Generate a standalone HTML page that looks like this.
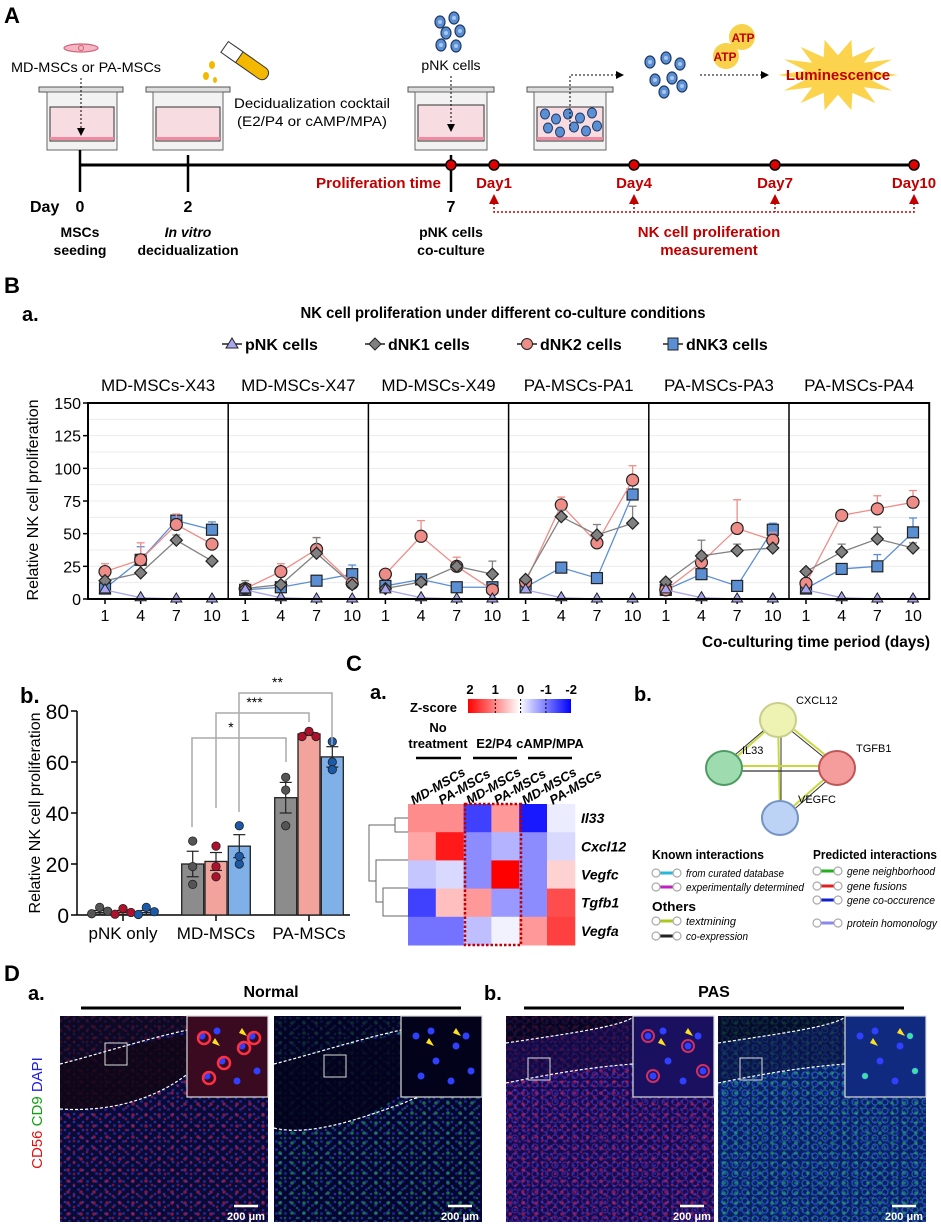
<!DOCTYPE html>
<html><head><meta charset="utf-8">
<style>
html,body{margin:0;padding:0;background:#fff;}
svg{display:block;font-family:"Liberation Sans",Arial,sans-serif;}
.n{font-family:"Liberation Sans Narrow","Liberation Sans",sans-serif;}
</style></head>
<body>
<svg id="fig" width="941" height="1224" viewBox="0 0 941 1224" xmlns="http://www.w3.org/2000/svg">
<defs>
  <marker id="arrBlack" markerWidth="8" markerHeight="8" refX="4" refY="4" orient="auto"><path d="M0,0 L8,4 L0,8 z" fill="#000"/></marker>
  <linearGradient id="zgrad" x1="0" x2="1" y1="0" y2="0">
    <stop offset="0" stop-color="#ff0000"/><stop offset="0.5" stop-color="#ffffff"/><stop offset="1" stop-color="#0000ff"/>
  </linearGradient>
  <pattern id="pBlue" width="9" height="8" patternUnits="userSpaceOnUse">
    <circle cx="2" cy="2" r="1.3" fill="#3a4cff"/><circle cx="6.5" cy="5.5" r="1.5" fill="#2a3ae0"/>
  </pattern>
  <pattern id="pRed" width="13" height="11" patternUnits="userSpaceOnUse">
    <circle cx="3" cy="4" r="1.8" fill="#e02050"/><circle cx="9" cy="8" r="1.4" fill="#c01848"/>
  </pattern>
  <pattern id="pGreen" width="12" height="10" patternUnits="userSpaceOnUse">
    <circle cx="4" cy="3" r="1.8" fill="#22c060"/><circle cx="9" cy="8" r="1.3" fill="#1aa050"/>
  </pattern>
  <pattern id="pCyan" width="10" height="9" patternUnits="userSpaceOnUse">
    <circle cx="5" cy="4" r="3" fill="none" stroke="#3090e0" stroke-width="1.2"/>
  </pattern>
  <pattern id="pPurple" width="10" height="9" patternUnits="userSpaceOnUse">
    <circle cx="5" cy="4" r="3" fill="none" stroke="#7030c0" stroke-width="1.2"/>
  </pattern>
</defs>

<!-- ================= PART A ================= -->
<g>
  <text x="4" y="23" font-size="22" font-weight="bold">A</text>
  <ellipse cx="81" cy="48" rx="17" ry="4" fill="#f3b6c2" stroke="#d0607a" stroke-width="1.2"/>
  <circle cx="81" cy="48" r="2.5" fill="none" stroke="#d0607a"/>
  <text class="n" x="86" y="72" font-size="14" text-anchor="middle" textLength="150" lengthAdjust="spacingAndGlyphs">MD-MSCs or PA-MSCs</text>
  <g>
    <rect x="39" y="87" width="84" height="5" fill="#ddd" stroke="#555"/>
    <rect x="47" y="92" width="70" height="58" fill="#f2f2f2" stroke="#666"/>
    <rect x="50" y="107" width="64" height="34" fill="#f7dde2" stroke="#333" stroke-width="1"/>
    <rect x="50" y="137" width="64" height="3" fill="#ef8aa0"/>
  </g>
  <line x1="81" y1="78" x2="81" y2="132" stroke="#000" stroke-dasharray="2,2" marker-end="url(#arrBlack)"/>
  <g>
    <rect x="146" y="87" width="84" height="5" fill="#ddd" stroke="#555"/>
    <rect x="153" y="92" width="70" height="58" fill="#f2f2f2" stroke="#666"/>
    <rect x="156" y="107" width="64" height="34" fill="#f7dde2" stroke="#333"/>
    <rect x="156" y="137" width="64" height="3" fill="#ef8aa0"/>
  </g>
  <g>
    <rect x="222" y="56" width="50" height="13" rx="6" fill="#f5b800" stroke="#333" transform="rotate(35 247 62)"/>
    <rect x="220" y="56" width="18" height="13" fill="#fff" stroke="#333" transform="rotate(35 247 62)"/>
    <ellipse cx="212" cy="65" rx="3" ry="4" fill="#f5b800"/>
    <ellipse cx="206" cy="76" rx="3" ry="4" fill="#f5b800"/>
    <ellipse cx="215" cy="80" rx="2" ry="3" fill="#f5b800"/>
  </g>
  <text class="n" x="234" y="108" font-size="14" textLength="156" lengthAdjust="spacingAndGlyphs">Decidualization cocktail</text>
  <text class="n" x="237" y="126" font-size="14" textLength="150" lengthAdjust="spacingAndGlyphs">(E2/P4 or cAMP/MPA)</text>
  <g id="pnkCluster"></g>
  <text class="n" x="451" y="70" font-size="14" text-anchor="middle">pNK cells</text>
  <g>
    <rect x="408" y="87" width="86" height="5" fill="#ddd" stroke="#555"/>
    <rect x="415" y="92" width="72" height="58" fill="#f2f2f2" stroke="#666"/>
    <rect x="418" y="105" width="66" height="36" fill="#f7dde2" stroke="#333"/>
    <rect x="418" y="137" width="66" height="3" fill="#ef8aa0"/>
  </g>
  <line x1="451" y1="76" x2="451" y2="128" stroke="#000" stroke-dasharray="2,2" marker-end="url(#arrBlack)"/>
  <g>
    <rect x="527" y="87" width="86" height="5" fill="#ddd" stroke="#555"/>
    <rect x="534" y="92" width="72" height="58" fill="#f2f2f2" stroke="#666"/>
    <rect x="537" y="107" width="66" height="34" fill="#f7dde2" stroke="#333"/>
    <rect x="537" y="137" width="66" height="3" fill="#ef8aa0"/>
    <g id="wellCells"></g>
  </g>
  <polyline points="570,130 570,75 620,75" fill="none" stroke="#000" stroke-dasharray="2,2" marker-end="url(#arrBlack)"/>
  <g id="cells2"></g>
  <line x1="700" y1="75" x2="765" y2="75" stroke="#000" stroke-dasharray="2,2" marker-end="url(#arrBlack)"/>
  <circle cx="742" cy="37" r="13" fill="#f8d24a"/>
  <circle cx="726" cy="56" r="13" fill="#f8d24a"/>
  <text class="n" x="743" y="42" font-size="12" font-weight="bold" fill="#c00000" text-anchor="middle">ATP</text>
  <text class="n" x="725" y="61" font-size="12" font-weight="bold" fill="#c00000" text-anchor="middle">ATP</text>
  <polygon id="burst" fill="#fcd34d"/>
  <text class="n" x="838" y="80" font-size="15" font-weight="bold" fill="#c00000" text-anchor="middle">Luminescence</text>

  <line x1="80" y1="165" x2="914" y2="165" stroke="#000" stroke-width="3"/>
  <line x1="80" y1="150" x2="80" y2="192" stroke="#000" stroke-width="2.5"/>
  <line x1="188" y1="155" x2="188" y2="192" stroke="#000" stroke-width="2.5"/>
  <line x1="451" y1="155" x2="451" y2="192" stroke="#000" stroke-width="2.5"/>
  <g id="tdots"></g>
  <text class="n" x="441" y="188" font-size="15" font-weight="bold" fill="#c00000" text-anchor="end" textLength="125" lengthAdjust="spacingAndGlyphs">Proliferation time</text>
  <text class="n" x="30" y="212" font-size="16" font-weight="bold">Day</text>
  <text class="n" x="80" y="212" font-size="16" font-weight="bold" text-anchor="middle">0</text>
  <text class="n" x="188" y="212" font-size="16" font-weight="bold" text-anchor="middle">2</text>
  <text class="n" x="451" y="212" font-size="16" font-weight="bold" text-anchor="middle">7</text>
  <polyline points="494,203 494,212 914,212 914,203" fill="none" stroke="#c00000" stroke-width="1.5" stroke-dasharray="2,2"/>
  <line x1="634" y1="203" x2="634" y2="212" stroke="#c00000" stroke-dasharray="2,2" stroke-width="1.5"/>
  <line x1="775" y1="203" x2="775" y2="212" stroke="#c00000" stroke-dasharray="2,2" stroke-width="1.5"/>
  <text class="n" font-size="14" font-weight="bold" text-anchor="middle"><tspan x="80" y="237">MSCs</tspan><tspan x="80" y="255">seeding</tspan></text>
  <text class="n" font-size="14" font-weight="bold" text-anchor="middle"><tspan x="188" y="237" font-style="italic">In vitro</tspan><tspan x="188" y="255">decidualization</tspan></text>
  <text class="n" font-size="14" font-weight="bold" text-anchor="middle"><tspan x="451" y="237">pNK cells</tspan><tspan x="451" y="255">co-culture</tspan></text>
  <text class="n" font-size="15" font-weight="bold" fill="#c00000" text-anchor="middle"><tspan x="709" y="237">NK cell proliferation</tspan><tspan x="709" y="255">measurement</tspan></text>
</g>

<!-- ================= PART B a ================= -->
<g>
  <text x="4" y="293" font-size="22" font-weight="bold">B</text>
  <text x="22" y="321" font-size="20" font-weight="bold">a.</text>
  <text class="n" x="503" y="318" font-size="16" font-weight="bold" text-anchor="middle" textLength="405" lengthAdjust="spacingAndGlyphs">NK cell proliferation under different co-culture conditions</text>
  <g id="legendB"></g>
  <g id="lineCharts"></g>
  <text x="38" y="500" font-size="16" text-anchor="middle" transform="rotate(-90 38 500)">Relative NK cell proliferation</text>
  <text class="n" x="930" y="647" font-size="16" font-weight="bold" text-anchor="end" textLength="228" lengthAdjust="spacingAndGlyphs">Co-culturing time period (days)</text>
</g>

<!-- ================= PART B b ================= -->
<g>
  <text x="20" y="703" font-size="22" font-weight="bold">b.</text>
  <g id="barChart"></g>
  <text x="40" y="813" font-size="16" text-anchor="middle" transform="rotate(-90 40 813)">Relative NK cell proliferation</text>
</g>

<!-- ================= PART C ================= -->
<g>
  <text x="346" y="671" font-size="22" font-weight="bold">C</text>
  <text x="370" y="699" font-size="20" font-weight="bold">a.</text>
  <text class="n" x="410" y="712" font-size="13" font-weight="bold">Z-score</text>
  <rect x="468" y="699" width="103" height="14" fill="url(#zgrad)"/>
  <g id="zticks"></g>
  <text class="n" font-size="13" font-weight="bold" text-anchor="middle"><tspan x="438" y="732">No</tspan><tspan x="438" y="748">treatment</tspan></text>
  <text class="n" x="494" y="748" font-size="13" font-weight="bold" text-anchor="middle">E2/P4</text>
  <text class="n" x="550" y="748" font-size="13" font-weight="bold" text-anchor="middle">cAMP/MPA</text>
  <line x1="416" y1="758" x2="461" y2="758" stroke="#000" stroke-width="2.5"/>
  <line x1="473" y1="758" x2="517" y2="758" stroke="#000" stroke-width="2.5"/>
  <line x1="528" y1="758" x2="572" y2="758" stroke="#000" stroke-width="2.5"/>
  <g id="heatmap"></g>
  <g fill="none" stroke="#666" stroke-width="1">
    <polyline points="408,818 395,818 395,832 408,832"/>
    <polyline points="408,888 383,888 383,916 408,916"/>
    <polyline points="408,860 376,860 376,902 383,902"/>
    <polyline points="395,825 369,825 369,881 376,881"/>
  </g>
  <rect x="465" y="804" width="56" height="141" fill="none" stroke="#c00000" stroke-width="2.5" stroke-dasharray="2.5,2"/>

  <text x="634" y="701" font-size="20" font-weight="bold">b.</text>
  <g>
    <line x1="778" y1="720" x2="724" y2="768" stroke="#c8d840" stroke-width="2"/>
    <line x1="776" y1="720" x2="722" y2="766" stroke="#333" stroke-width="1"/>
    <line x1="778" y1="720" x2="837" y2="768" stroke="#333" stroke-width="1"/>
    <line x1="781" y1="719" x2="840" y2="767" stroke="#c8d840" stroke-width="2"/>
    <line x1="778" y1="720" x2="780" y2="818" stroke="#c8d840" stroke-width="2"/>
    <line x1="781" y1="720" x2="781" y2="818" stroke="#333" stroke-width="1"/>
    <line x1="724" y1="766" x2="837" y2="766" stroke="#c8d840" stroke-width="2"/>
    <line x1="724" y1="771" x2="837" y2="771" stroke="#333" stroke-width="1.2"/>
    <line x1="837" y1="768" x2="780" y2="818" stroke="#c8d840" stroke-width="2"/>
    <line x1="839" y1="770" x2="782" y2="820" stroke="#333" stroke-width="1"/>
    <ellipse cx="778" cy="720" rx="18" ry="17" fill="#eef3b4" stroke="#c8cf88" stroke-width="2"/>
    <ellipse cx="724" cy="768" rx="18" ry="17" fill="#9edcb0" stroke="#4c9c62" stroke-width="2"/>
    <ellipse cx="837" cy="768" rx="18" ry="17" fill="#f59c9c" stroke="#c05656" stroke-width="2"/>
    <ellipse cx="780" cy="818" rx="18" ry="17" fill="#bcd3f5" stroke="#7494c4" stroke-width="2"/>
    <text x="796" y="704" font-size="11">CXCL12</text>
    <text x="742" y="754" font-size="11">IL33</text>
    <text x="856" y="752" font-size="11">TGFB1</text>
    <text x="798" y="803" font-size="11">VEGFC</text>
  </g>
  <g id="netLegend"></g>
</g>

<!-- ================= PART D ================= -->
<g>
  <text x="4" y="981" font-size="22" font-weight="bold">D</text>
  <text x="28" y="1000" font-size="20" font-weight="bold">a.</text>
  <text class="n" x="271" y="997" font-size="16" font-weight="bold" text-anchor="middle">Normal</text>
  <line x1="81" y1="1008" x2="461" y2="1008" stroke="#000" stroke-width="3"/>
  <text x="484" y="1000" font-size="20" font-weight="bold">b.</text>
  <text class="n" x="714" y="997" font-size="16" font-weight="bold" text-anchor="middle">PAS</text>
  <line x1="524" y1="1008" x2="904" y2="1008" stroke="#000" stroke-width="3"/>
  <text font-size="15" transform="rotate(-90 42 1113)" x="42" y="1113" text-anchor="middle"><tspan fill="#e01010">CD56 </tspan><tspan fill="#10a010">CD9 </tspan><tspan fill="#2020e0">DAPI</tspan></text>
  <g id="micro"></g>
</g>

<script>
const NS="http://www.w3.org/2000/svg";
function mk(tag,attrs,parent){const e=document.createElementNS(NS,tag);for(const k in attrs)e.setAttribute(k,attrs[k]);if(parent)parent.appendChild(e);return e;}

(function(){
  const cl=document.getElementById('pnkCluster');
  [[440,22],[454,18],[446,33],[460,31],[441,45],[456,46]].forEach(p=>{
    const c=mk('ellipse',{cx:p[0],cy:p[1],rx:5,ry:6,fill:'#5b8fd4',stroke:'#1f3a66','stroke-width':1.2},cl);
    
    
    mk('circle',{cx:p[0],cy:p[1],r:2,fill:'#a8c6ee'},cl);
  });
  const c2=document.getElementById('cells2');
  [[650,62],[666,58],[680,64],[655,80],[672,78],[664,92],[682,86]].forEach(p=>{
    mk('ellipse',{cx:p[0],cy:p[1],rx:5,ry:6,fill:'#5b8fd4',stroke:'#1f3a66','stroke-width':1.2},c2);
    mk('circle',{cx:p[0],cy:p[1],r:2,fill:'#a8c6ee'},c2);
  });
  const wc=document.getElementById('wellCells');
  [[545,114],[556,119],[568,114],[580,118],[592,113],[548,128],[560,132],[574,127],[586,131],[597,126]].forEach(p=>{
    mk('ellipse',{cx:p[0],cy:p[1],rx:4.5,ry:5,fill:'#5b8fd4',stroke:'#1f3a66','stroke-width':1},wc);
  });
  const b=document.getElementById('burst');let pts=[];
  for(let i=0;i<28;i++){const a=i*Math.PI/14;const r=(i%2===0)?1:0.55;pts.push((838+Math.cos(a)*60*r).toFixed(1)+','+(75+Math.sin(a)*36*r).toFixed(1));}
  b.setAttribute('points',pts.join(' '));
  const td=document.getElementById('tdots');
  [451,494,634,775,914].forEach((x,i)=>{
    const d=mk('circle',{cx:x,cy:165,r:5,fill:'#e00000',stroke:'#000','stroke-width':1.5},td);
    
    
  });
  [['Day1',494],['Day4',634],['Day7',775],['Day10',914]].forEach(t=>{
    const tx=mk('text',{x:t[1],y:188,'font-size':15,'font-weight':'bold',fill:'#c00000','text-anchor':'middle','class':'n'},td);
    tx.textContent=t[0];
    
    
    mk('polygon',{points:`${t[1]-5},204 ${t[1]+5},204 ${t[1]},194`,fill:'#c00000'},td);
  });
})();

/* ---------- Part B a: line charts ---------- */
const days=[1,4,7,10];
const panelNames=['MD-MSCs-X43','MD-MSCs-X47','MD-MSCs-X49','PA-MSCs-PA1','PA-MSCs-PA3','PA-MSCs-PA4'];
const pnkVals=[[7,1,0,0],[7,1,0,0],[7,1,0,0],[7,1,0,0],[7,1,0,0],[7,1,0,0]];
const dnk1Vals=[[14,20,45,29],[8,11,35,11],[8,13,25,19],[15,63,49,58],[13,33,37,39],[21,36,46,39]];
const dnk2Vals=[[21,30,57,42],[8,21,38,12],[19,48,25,7],[13,72,43,91],[7,28,54,45],[12,64,69,74]];
const dnk3Vals=[[8,30,60,53],[7,9,14,19],[10,15,9,9],[9,24,16,80],[7,19,10,53],[8,23,25,51]];
const dnk1Err=[[2,2,4,2],[6,2,12,2],[2,2,2,10],[2,5,8,13],[2,12,5,3],[2,6,9,4]];
const dnk2Err=[[6,13,8,3],[2,6,9,3],[2,12,7,2],[2,6,3,11],[2,8,22,6],[2,2,10,9]];
const dnk3Err=[[2,10,3,6],[2,2,4,7],[2,2,2,2],[2,4,2,9],[2,4,2,5],[2,2,9,11]];
const yTicksB=[0,25,50,75,100,125,150];

const PX0=88,PW=140.2,Y0=599,YH=196;
function xS(p,d){return PX0+p*PW+17+(d-1)/9*107;}
function yS(v){return Y0-v*YH/150;}

(function(){
  const g=document.getElementById('lineCharts');
  for(let v=12.5;v<150;v+=12.5){
    mk('line',{x1:PX0,x2:PX0+6*PW,y1:yS(v),y2:yS(v),stroke:'#ececec','stroke-width':1},g);
  }
  yTicksB.forEach(v=>{
    mk('line',{x1:PX0-5,x2:PX0,y1:yS(v),y2:yS(v),stroke:'#000','stroke-width':1.5},g);
    const t=mk('text',{x:PX0-7,y:yS(v)+6,'font-size':16,'text-anchor':'end'},g);t.textContent=v;
    
    
  });
  const series=[
    {vals:dnk3Vals,err:dnk3Err,col:'#5b8fd4',shape:'sq',name:'dnk3'},
    {vals:dnk2Vals,err:dnk2Err,col:'#ee8d88',shape:'ci',name:'dnk2'},
    {vals:dnk1Vals,err:dnk1Err,col:'#808080',shape:'di',name:'dnk1'},
    {vals:pnkVals,err:null,col:'#a9a6f0',shape:'tr',name:'pnk'}
  ];
  panelNames.forEach((nm,p)=>{
    const pg=mk('g',{},g);
    
    
    const t=mk('text',{x:PX0+p*PW+PW/2,y:391,'font-size':17,'text-anchor':'middle'},pg);t.textContent=nm;
    
    
    days.forEach(d=>{
      mk('line',{x1:xS(p,d),x2:xS(p,d),y1:Y0,y2:Y0+5,stroke:'#000','stroke-width':1.5},pg);
      const tl=mk('text',{x:xS(p,d),y:Y0+22,'font-size':16,'text-anchor':'middle'},pg);tl.textContent=d;
      
      
    });
    series.forEach(s=>{
      const v=s.vals[p];
      if(s.err){
        v.forEach((val,i)=>{
          const x=xS(p,days[i]),y1=yS(val),y2=yS(val+s.err[p][i]);
          mk('line',{x1:x,x2:x,y1:y1,y2:y2,stroke:s.col,'stroke-width':1.3},pg);
          mk('line',{x1:x-4,x2:x+4,y1:y2,y2:y2,stroke:s.col,'stroke-width':1.3},pg);
        });
      }
      const pl=mk('polyline',{points:v.map((val,i)=>xS(p,days[i])+','+yS(val)).join(' '),fill:'none',stroke:s.col,'stroke-width':1.3},pg);
      
      
      v.forEach((val,i)=>{
        const x=xS(p,days[i]),y=yS(val);let m;
        if(s.shape==='sq')m=mk('rect',{x:x-5.5,y:y-5.5,width:11,height:11,fill:s.col,stroke:'#222','stroke-width':1.2},pg);
        else if(s.shape==='ci')m=mk('circle',{cx:x,cy:y,r:6,fill:s.col,stroke:'#222','stroke-width':1.2},pg);
        else if(s.shape==='di')m=mk('polygon',{points:`${x},${y-6} ${x+6},${y} ${x},${y+6} ${x-6},${y}`,fill:s.col,stroke:'#222','stroke-width':1.2},pg);
        else m=mk('polygon',{points:`${x},${y-6} ${x+5.5},${y+3} ${x-5.5},${y+3}`,fill:s.col,stroke:'#222','stroke-width':1},pg);
        
        
      });
    });
  });
  mk('rect',{x:PX0,y:yS(150),width:6*PW,height:YH,fill:'none',stroke:'#000','stroke-width':2},g);
  for(let p=1;p<6;p++) mk('line',{x1:PX0+p*PW,x2:PX0+p*PW,y1:yS(150),y2:Y0,stroke:'#000','stroke-width':1.5},g);

  const lg=document.getElementById('legendB');
  const items=[['pNK cells',232,'#a9a6f0','tr'],['dNK1 cells',375,'#808080','di'],['dNK2 cells',527,'#ee8d88','ci'],['dNK3 cells',673,'#5b8fd4','sq']];
  items.forEach(it=>{
    const x=it[1],y=344;
    const eg=mk('g',{},lg);
    
    
    mk('line',{x1:x-10,x2:x+10,y1:y,y2:y,stroke:'#222','stroke-width':1.5},eg);
    if(it[3]==='tr')mk('polygon',{points:`${x},${y-6} ${x+6},${y+4} ${x-6},${y+4}`,fill:it[2],stroke:'#222'},eg);
    if(it[3]==='di')mk('polygon',{points:`${x},${y-6} ${x+6},${y} ${x},${y+6} ${x-6},${y}`,fill:it[2],stroke:'#222'},eg);
    if(it[3]==='ci')mk('circle',{cx:x,cy:y,r:5.5,fill:it[2],stroke:'#222'},eg);
    if(it[3]==='sq')mk('rect',{x:x-5,y:y-6,width:10,height:12,fill:it[2],stroke:'#222'},eg);
    const t=mk('text',{x:x+13,y:y+6,'font-size':16,'font-weight':'bold','class':'n'},eg);t.textContent=it[0];
  });
})();

/* ---------- Part B b: bar chart ---------- */
const barGroups=['pNK only','MD-MSCs','PA-MSCs'];
const grayMeans=[1,20,46];
const pinkMeans=[1,21,71];
const blueMeans=[1,27,62];
const grayErr=[0.8,5,6];
const pinkErr=[0.8,3.5,0.6];
const blueErr=[0.8,4.5,4];
const grayPts=[[0.5,3,1.5],[29,12,19],[54,49,35]];
const pinkPts=[[0.3,2.5,1],[27,15,19],[70,72,70]];
const bluePts=[[0.2,3,1.3],[35,20,23],[68,60,57]];
const barTicks=[0,20,40,60,80];

(function(){
  const g=document.getElementById('barChart');
  const yB=v=>915-v*2.55;
  const gc=[123,216,309];
  const ax=77;
  barTicks.forEach(v=>{
    mk('line',{x1:ax-6,x2:ax,y1:yB(v),y2:yB(v),stroke:'#000','stroke-width':1.5},g);
    const t=mk('text',{x:ax-8,y:yB(v)+8,'font-size':21,'text-anchor':'end'},g);t.textContent=v;
    
    
  });
  mk('line',{x1:ax,x2:ax,y1:yB(80),y2:yB(0),stroke:'#000','stroke-width':1.5},g);
  mk('line',{x1:ax,x2:350,y1:yB(0),y2:yB(0),stroke:'#000','stroke-width':1.5},g);
  const sets=[[grayMeans,grayErr,grayPts,'#8c8c8c','#555'],[pinkMeans,pinkErr,pinkPts,'#f1a39c','#b0102c'],[blueMeans,blueErr,bluePts,'#7fb0e8','#1a5aa8']];
  barGroups.forEach((gn,i)=>{
    mk('line',{x1:gc[i],x2:gc[i],y1:yB(0),y2:yB(0)+6,stroke:'#000','stroke-width':1.5},g);
    const t=mk('text',{x:gc[i],y:yB(0)+24,'font-size':17,'text-anchor':'middle'},g);t.textContent=gn;
    
    
    sets.forEach((s,j)=>{
      const cx=gc[i]+(j-1)*23.3;const m=s[0][i];
      const r=mk('rect',{x:cx-11,y:yB(m),width:22,height:yB(0)-yB(m),fill:s[3],stroke:'#222','stroke-width':1.3},g);
      
      
      const e=s[1][i];
      mk('line',{x1:cx,x2:cx,y1:yB(m-e),y2:yB(m+e),stroke:'#222','stroke-width':1.2},g);
      mk('line',{x1:cx-6,x2:cx+6,y1:yB(m+e),y2:yB(m+e),stroke:'#222','stroke-width':1.2},g);
      mk('line',{x1:cx-6,x2:cx+6,y1:yB(m-e),y2:yB(m-e),stroke:'#222','stroke-width':1.2},g);
      const offs=(i===0)?[-8,0,8]:(i===2&&j===1)?[-7,0,7]:[0,0,0];
      s[2][i].forEach((pv,k)=>{
        const d=mk('circle',{cx:cx+offs[k],cy:yB(pv),r:4.2,fill:s[4],stroke:'#222','stroke-width':0.8},g);
        
        
      });
    });
  });
  const br=[[192,286,738,827,762,'*'],[216,309,713,808,722,'***'],[239,332,693,812,745,'**']];
  br.forEach(b=>{
    const p=mk('polyline',{points:`${b[0]},${b[3]} ${b[0]},${b[2]} ${b[1]},${b[2]} ${b[1]},${b[4]}`,fill:'none',stroke:'#aaa','stroke-width':1.5},g);
    
    
    const t=mk('text',{x:(b[0]+b[1])/2-8,y:b[2]-6,'font-size':14,'text-anchor':'middle'},g);t.textContent=b[5];
  });
})();

/* ---------- Part C a: heatmap ---------- */
const genes=['Il33','Cxcl12','Vegfc','Tgfb1','Vegfa'];
const conditions=['MD-MSCs','PA-MSCs','MD-MSCs','PA-MSCs','MD-MSCs','PA-MSCs'];
const zIl33=[0.9,0.9,-1.5,0.8,-1.8,-0.15];
const zCxcl12=[0.7,1.8,-0.9,-0.6,-0.9,-0.3];
const zVegfc=[-0.45,-0.3,-0.9,2.0,-0.9,0.35];
const zTgfb1=[-1.5,0.5,0.8,-0.8,-0.9,1.4];
const zVegfa=[-1.1,-1.1,-0.5,-0.1,0.8,1.5];
const zTicks=['2','1','0','-1','-2'];

(function(){
  const g=document.getElementById('heatmap');
  const rows=[zIl33,zCxcl12,zVegfc,zTgfb1,zVegfa];
  const x0=408,cw=27.8,y0=804,rh=28.2;
  function col(z){z=Math.max(-2,Math.min(2,z));const t=Math.abs(z)/2;
    const a=Math.round(255*(1-t));
    return z>=0?`rgb(255,${a},${a})`:`rgb(${a},${a},255)`;}
  rows.forEach((r,i)=>{
    r.forEach((z,j)=>{
      const c=mk('rect',{x:x0+j*cw,y:y0+i*rh,width:cw+0.5,height:rh+0.5,fill:col(z)},g);
      
      
    });
    const t=mk('text',{x:581,y:y0+i*rh+rh/2+5,'font-size':14,'font-weight':'bold','font-style':'italic','class':'n'},g);t.textContent=genes[i];
    
    
  });
  conditions.forEach((c,j)=>{
    const x=x0+j*cw+cw/2+4,y=798;
    const t=mk('text',{x:x-14,y:y,'font-size':13,'font-weight':'bold','font-style':'italic','class':'n','text-anchor':'start',transform:`rotate(-30 ${x} ${y})`},g);
    t.textContent=c;
    
    
  });
  const zt=document.getElementById('zticks');
  zTicks.forEach((s,i)=>{
    const x=470+i*25.3;
    const t=mk('text',{x:x,y:694,'font-size':13,'font-weight':'bold','text-anchor':'middle','class':'n'},zt);t.textContent=s;
    if(i>0&&i<4)mk('line',{x1:x,x2:x,y1:699,y2:713,stroke:'#000','stroke-dasharray':'2,2'},zt);
  });
})();

/* ---------- Part C b: network legend ---------- */
(function(){
  const g=document.getElementById('netLegend');
  const h=(x,y,s,w)=>{const t=mk('text',{x:x,y:y,'font-size':13,'font-weight':'bold','class':'n',textLength:w,lengthAdjust:'spacingAndGlyphs'},g);t.textContent=s;};
  h(652,859,'Known interactions',112);h(813,859,'Predicted interactions',124);h(652,911,'Others',44);
  const items=[[652,873,'#29b6d8','from curated database',98],[652,887,'#c020c0','experimentally determined',118],[652,921,'#a8c820','textmining',50],[652,936,'#222','co-expression',62],
    [813,871,'#20b020','gene neighborhood',88],[813,886,'#e02020','gene fusions',60],[813,900,'#1020d0','gene co-occurence',88],[813,923,'#8888ee','protein homonology',90]];
  items.forEach(it=>{
    const eg=mk('g',{},g);
    
    
    mk('line',{x1:it[0]+5,x2:it[0]+23,y1:it[1],y2:it[1],stroke:it[2],'stroke-width':3},eg);
    mk('circle',{cx:it[0]+4,cy:it[1],r:4,fill:'#fff',stroke:'#aaa','stroke-width':1.2},eg);
    mk('circle',{cx:it[0]+25,cy:it[1],r:4,fill:'#fff',stroke:'#aaa','stroke-width':1.2},eg);
    const t=mk('text',{x:it[0]+34,y:it[1]+4,'font-size':11,'font-style':'italic','class':'n',textLength:it[4],lengthAdjust:'spacingAndGlyphs'},eg);t.textContent=it[3];
  });
})();

/* ---------- Part D: micrographs ---------- */
(function(){
  const g=document.getElementById('micro');
  const imgs=[
    {x:60,base:'#0a0a34',over:['pBlue','pRed'],upper:'#100614',name:'normal-cd56'},
    {x:274,base:'#04062e',over:['pBlue','pGreen'],upper:'#03031a',name:'normal-cd9'},
    {x:506,base:'#180a4c',over:['pPurple','pBlue','pRed'],upper:'#120838',name:'pas-cd56'},
    {x:718,base:'#0a2064',over:['pCyan','pBlue','pGreen'],upper:'#0a1038',name:'pas-cd9'}
  ];
  imgs.forEach((im,i)=>{
    const ig=mk('g',{},g);
    
    
    const W=208,y=1016,H=206;
    mk('rect',{x:im.x,y:y,width:W,height:H,fill:im.base},ig);
    im.over.forEach(p=>mk('rect',{x:im.x,y:y,width:W,height:H,fill:`url(#${p})`,opacity:0.55},ig));
    let dl1,dl2;
    if(i<2){
      const ox=im.x;
      const lowY = i===0?1113:1133;
      dl1=`M${ox},${y+48} C${ox+40},${y+38} ${ox+100},${y+18} ${ox+W-60},${y+10} L${ox+W},${y+8}`;
      dl2=i===0?`M${ox},${lowY-4} C${ox+60},${lowY} ${ox+110},${lowY-20} ${ox+140},${lowY-50} C${ox+155},${lowY-70} ${ox+170},${lowY-80} ${ox+W},${lowY-90}`
               :`M${ox},${lowY-5} C${ox+40},${lowY+5} ${ox+100},${lowY-20} ${ox+130},${lowY-30} C${ox+160},${lowY-45} ${ox+190},${lowY-40} ${ox+W},${lowY-40}`;
      mk('path',{d:`M${ox},${y} H${ox+W} V${y+8} L${ox+W-60},${y+10} C${ox+100},${y+18} ${ox+40},${y+38} ${ox},${y+48} Z`,fill:im.upper,opacity:0.6},ig);
      mk('path',{d:`M${ox},${y+48} C${ox+40},${y+38} ${ox+100},${y+18} ${ox+W},${y+8} V${i===0?lowY-90:lowY-40} C${ox+170},${lowY-80} ${ox+150},${lowY-60} ${ox+140},${lowY-50} C${ox+110},${lowY-20} ${ox+60},${lowY} ${ox},${lowY-4} Z`,fill:im.upper,opacity:0.85},ig);
    } else {
      const ox=im.x;
      dl1=`M${ox},${y+27} C${ox+60},${y+18} ${ox+120},${y+10} ${ox+W-80},${y}`;
      dl2=`M${ox},${y+67} C${ox+60},${y+55} ${ox+120},${y+44} ${ox+W},${y+46}`;
      mk('path',{d:`M${ox},${y+27} C${ox+60},${y+18} ${ox+120},${y+10} ${ox+W-80},${y} H${ox+W} V${y+46} C${ox+120},${y+44} ${ox+60},${y+55} ${ox},${y+67} Z`,fill:im.upper,opacity:0.6},ig);
      mk('path',{d:`M${ox},${y} H${ox+W-80} C${ox+120},${y+10} ${ox+60},${y+18} ${ox},${y+27} Z`,fill:'#000',opacity:0.6},ig);
    }
    mk('path',{d:dl1,fill:'none',stroke:'#fff','stroke-width':1.2,'stroke-dasharray':'3,2'},ig);
    mk('path',{d:dl2,fill:'none',stroke:'#fff','stroke-width':1.2,'stroke-dasharray':'3,2'},ig);
    const bx=[im.x+45,im.x+50,im.x+22,im.x+22][i],by=[1043,1055,1058,1058][i];
    mk('rect',{x:bx,y:by,width:22,height:22,fill:'none',stroke:'#ddd','stroke-width':1},ig);
    const ix=im.x+W-81,iy=y;
    const insFill=['#3a0a20','#02021a','#1a1060','#102a80'][i];
    mk('rect',{x:ix,y:iy,width:81,height:81,fill:insFill,stroke:'#ddd','stroke-width':1.2},ig);
    const blobs=[[20,60],[35,45],[55,30],[65,20],[15,20],[50,65],[70,55],[30,15]];
    blobs.forEach((b,k)=>{
      mk('circle',{cx:ix+b[0],cy:iy+b[1],r:3.5,fill:'#3040ff'},ig);
      if(i===0&&k<5)mk('circle',{cx:ix+b[0]+2,cy:iy+b[1]+2,r:6,fill:'none',stroke:'#ff3040','stroke-width':2.5},ig);
      if(i===2&&k%2===0)mk('circle',{cx:ix+b[0],cy:iy+b[1],r:6,fill:'none',stroke:'#d03060','stroke-width':2},ig);
      if(i===3&&k%3===0)mk('circle',{cx:ix+b[0],cy:iy+b[1],r:3,fill:'#40e0a0'},ig);
    });
    mk('polygon',{points:`${ix+28},${iy+22} ${ix+33},${iy+30} ${ix+25},${iy+27}`,fill:'#ffe020'},ig);
    mk('polygon',{points:`${ix+55},${iy+12} ${ix+60},${iy+20} ${ix+52},${iy+17}`,fill:'#ffe020'},ig);
    mk('line',{x1:im.x+W-34,x2:im.x+W-10,y1:1206,y2:1206,stroke:'#fff','stroke-width':2.5},ig);
    const t=mk('text',{x:im.x+W-22,y:1220,'font-size':11,'font-weight':'bold',fill:'#fff','text-anchor':'middle','class':'n'},ig);
    t.textContent='200 μm';
    
    
  });
})();
</script>
</svg>
</body></html>
